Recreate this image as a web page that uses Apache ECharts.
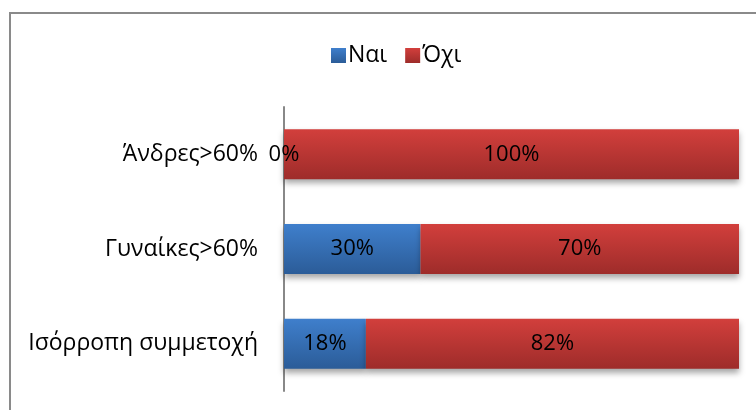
<!DOCTYPE html>
<html><head><meta charset="utf-8">
<script src="https://cdn.jsdelivr.net/npm/echarts@6/dist/echarts.min.js"></script>
<style>html,body{margin:0;padding:0;background:#fff}#c{width:756px;height:410px}</style>
</head><body><div id="c"></div>
<script>
const categories = ['Ισόρροπη συμμετοχή', 'Γυναίκες>60%', 'Άνδρες>60%'];
const nai = [18, 30, 0];
const oxi = [82, 70, 100];
const seriesNames = ['Ναι', 'Όχι'];

const FONT = '"Open Sans", "Noto Sans", sans-serif';
const chart = echarts.init(document.getElementById('c'), null, {renderer: 'canvas'});
function grad(top, bottom) {
  return new echarts.graphic.LinearGradient(0, 0, 0, 1, [{offset: 0, color: top}, {offset: 1, color: bottom}]);
}
const common = {
  type: 'bar', stack: 'a', barWidth: 50,
  label: {show: true, position: 'inside', formatter: p => p.value + '%', color: '#000', fontSize: 22, fontFamily: FONT},
};
chart.setOption({
  animation: false,
  graphic: [{type: 'rect', shape: {x: 10, y: 13, width: 900, height: 600}, style: {fill: 'none', stroke: '#8a8a8a', lineWidth: 2}, z: 100}],
  legend: {
    top: 39, left: 326, itemWidth: 15, itemHeight: 15, itemGap: 18,
    textStyle: {fontSize: 23, fontFamily: FONT, color: '#000', padding: [0, 0, 0, -3]},
    data: seriesNames.map(n => ({name: n, icon: 'rect'}))
  },
  grid: {left: 284, right: 17, top: 107, bottom: 19},
  xAxis: {type: 'value', min: 0, max: 100, show: false},
  yAxis: {
    type: 'category', data: categories,
    axisLine: {show: true, lineStyle: {color: '#888', width: 2}},
    axisTick: {show: false},
    axisLabel: {margin: 26, fontSize: 23, fontFamily: FONT, color: '#000'}
  },
  series: [
    Object.assign({}, common, {name: seriesNames[0], data: nai,
      itemStyle: {color: grad('#3f7fcc', '#2b5c98'), shadowColor: 'rgba(0,0,0,0.35)', shadowBlur: 6, shadowOffsetY: 4}}),
    Object.assign({}, common, {name: seriesNames[1], data: oxi,
      itemStyle: {color: grad('#d23f3c', '#9e2c2a'), shadowColor: 'rgba(0,0,0,0.35)', shadowBlur: 6, shadowOffsetY: 4}})
  ]
});
</script></body></html>
